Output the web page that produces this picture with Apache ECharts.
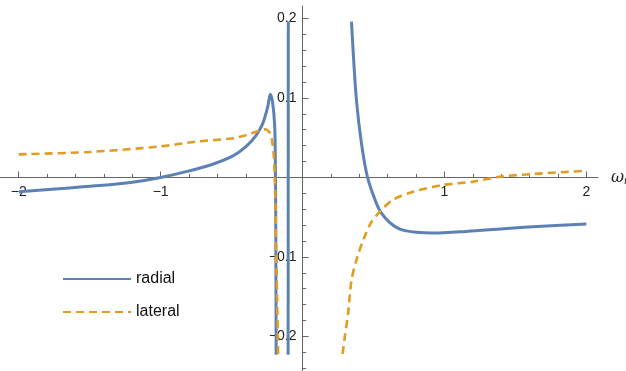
<!DOCTYPE html>
<html>
<head>
<meta charset="utf-8">
<script src="https://cdn.jsdelivr.net/npm/echarts@6/dist/echarts.min.js"></script>
<style>
  html, body { margin: 0; padding: 0; background: #fff; }
  #main { width: 626px; height: 371px; }
</style>
</head>
<body>
<div id="main"></div>
<script>
// radial, left branch up to the first pole
var radialLeftX = [-2.0, -1.67, -1.43, -1.2, -1.0, -0.82, -0.633, -0.49, -0.397, -0.327, -0.28, -0.245, -0.2275, -0.21, -0.196, -0.192, -0.189, -0.186];
var radialLeftY = [-0.018, -0.0136, -0.0103, -0.006, 0.0, 0.0073, 0.0166, 0.027, 0.039, 0.053, 0.068, 0.089, 0.1045, 0.093, 0.064, 0.022, -0.05, -0.223];
// radial, steep crossing near -0.1
var radialPoleX = [-0.1015, -0.1005];
var radialPoleY = [-0.223, 0.196];
// radial, right branch
var radialRightX = [0.345, 0.356, 0.380, 0.415, 0.458, 0.519, 0.556, 0.615, 0.685, 0.803, 0.918, 1.155, 1.389, 1.622, 2.0];
var radialRightY = [0.196, 0.160, 0.097, 0.043, 0.0, -0.032, -0.045, -0.057, -0.065, -0.069, -0.070, -0.068, -0.065, -0.062, -0.0585];

// lateral
var lateralLeftX = [-2.0, -1.5, -1.0, -0.75, -0.5, -0.4, -0.3, -0.2655, -0.23, -0.214, -0.202, -0.195, -0.185, -0.172];
var lateralLeftY = [0.029, 0.032, 0.039, 0.045, 0.049, 0.053, 0.059, 0.0605, 0.056, 0.045, 0.026, -0.003, -0.1, -0.223];
var lateralRightX = [0.282, 0.298, 0.321, 0.345, 0.380, 0.427, 0.486, 0.556, 0.638, 0.779, 0.99, 1.2, 1.389, 1.624, 2.0];
var lateralRightY = [-0.222, -0.200, -0.171, -0.129, -0.104, -0.079, -0.056, -0.041, -0.028, -0.018, -0.0096, -0.0054, 0.0009, 0.0043, 0.0084];

var xMajor = [-2, -1, 1, 2];
var yMajor = [-0.2, -0.1, 0.1, 0.2];

function pairs(xs, ys) {
    var out = [];
    for (var i = 0; i < xs.length; i++) out.push([xs[i], ys[i]]);
    return out;
}
function minus(v) { return String(v).replace('-', '\u2212'); }

var xMin = -2.132, xMax = 2.082, yMin = -0.2435, yMax = 0.2156;
var axisCol = '#666';
var blue = '#5E81B5', orange = '#E19C24';

var myChart = echarts.init(document.getElementById('main'));

function radialSeries(d) {
    return {
        name: 'radial', type: 'line', data: d, symbol: 'none', smooth: 0.3,
        clip: true, color: blue,
        lineStyle: { color: blue, width: 3 }, z: 3
    };
}
function lateralSeries(d) {
    return {
        name: 'lateral', type: 'line', data: d, symbol: 'none', smooth: 0.3,
        clip: true, color: orange,
        lineStyle: { color: orange, width: 2.6, type: [8, 5] }, z: 4
    };
}

var option = {
    animation: false,
    grid: { left: 0, right: 28, top: 6, bottom: 0, outerBoundsMode: 'none', containLabel: false },
    legend: {
        orient: 'vertical', left: 62, top: 271, padding: 0,
        itemWidth: 68, itemHeight: 16, itemGap: 17,
        itemStyle: { opacity: 0 },
        textStyle: { fontFamily: 'Liberation Sans', fontSize: 16, color: '#111' },
        data: ['radial', 'lateral']
    },
    xAxis: {
        type: 'value', min: xMin, max: xMax,
        name: '{w|ω}{s|t}', nameLocation: 'end', nameGap: 13,
        nameTextStyle: {
            rich: {
                w: { fontFamily: 'DejaVu Serif', fontStyle: 'italic', fontSize: 16, color: '#222' },
                s: { fontFamily: 'DejaVu Serif', fontStyle: 'italic', fontSize: 10, color: '#222', padding: [8, 0, 0, 0] }
            }
        },
        axisLine: { onZero: true, lineStyle: { color: axisCol, width: 1 } },
        axisTick: { show: true, inside: true, length: 6, customValues: xMajor, lineStyle: { color: axisCol } },
        minorTick: { show: true, splitNumber: 5, length: 3.5, lineStyle: { color: axisCol } },
        axisLabel: {
            customValues: xMajor, margin: 8, color: '#222', fontSize: 14, fontFamily: 'Liberation Sans',
            formatter: minus
        },
        splitLine: { show: false }
    },
    yAxis: {
        type: 'value', min: yMin, max: yMax,
        axisLine: { onZero: true, lineStyle: { color: axisCol, width: 1 } },
        axisTick: { show: true, inside: true, length: 6, customValues: yMajor, lineStyle: { color: axisCol } },
        minorTick: { show: true, splitNumber: 5, length: 3.5, lineStyle: { color: axisCol } },
        axisLabel: {
            customValues: yMajor, margin: 6, color: '#222', fontSize: 14, fontFamily: 'Liberation Sans',
            formatter: minus
        },
        splitLine: { show: false }
    },
    series: [
        radialSeries(pairs(radialLeftX, radialLeftY)),
        radialSeries(pairs(radialPoleX, radialPoleY)),
        radialSeries(pairs(radialRightX, radialRightY)),
        lateralSeries(pairs(lateralLeftX, lateralLeftY)),
        lateralSeries(pairs(lateralRightX, lateralRightY))
    ]
};

myChart.setOption(option, true);

// tick labels stay at the grid edge when the axis line is on zero,
// so pull them in to the zero lines
var zeroY = myChart.convertToPixel({ yAxisIndex: 0 }, 0);
var zeroX = myChart.convertToPixel({ xAxisIndex: 0 }, 0);
var bottomEdge = myChart.getHeight() - option.grid.bottom;
var leftEdge = option.grid.left;
myChart.setOption({
    xAxis: { axisLabel: { margin: 8 - (bottomEdge - zeroY) } },
    yAxis: { axisLabel: { margin: 6 - (zeroX - leftEdge) } }
});
</script>
</body>
</html>
